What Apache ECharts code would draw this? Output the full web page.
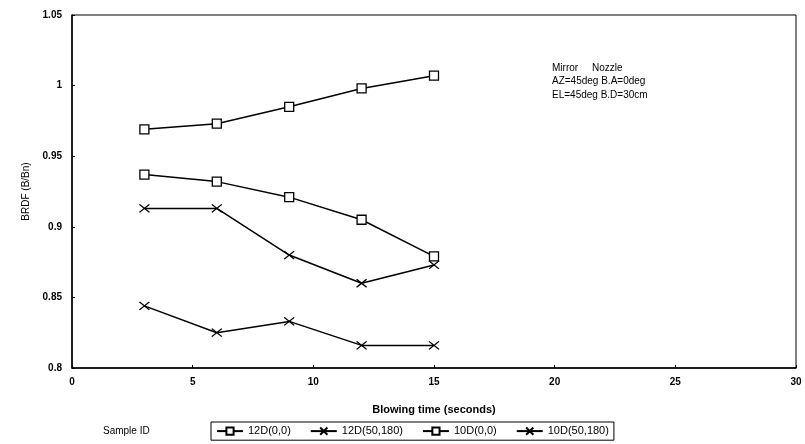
<!DOCTYPE html>
<html>
<head>
<meta charset="utf-8">
<script src="https://cdn.jsdelivr.net/npm/echarts@6/dist/echarts.min.js"></script>
<style>
  html, body { margin: 0; padding: 0; background: #fff; }
  #main { width: 805px; height: 444px; }
</style>
</head>
<body>
<div id="main"></div>
<script>
// blowing time (seconds)
var times = [3, 6, 9, 12, 15];
// BRDF (B/Bn) per sample
var d12_00 = [0.969, 0.973, 0.985, 0.998, 1.007];
var d12_50 = [0.913, 0.913, 0.880, 0.860, 0.873];
var d10_00 = [0.937, 0.932, 0.921, 0.905, 0.879];
var d10_50 = [0.844, 0.825, 0.833, 0.816, 0.816];
var names = ['12D(0,0)', '12D(50,180)', '10D(0,0)', '10D(50,180)'];
var notes = ['Mirror     Nozzle', 'AZ=45deg B.A=0deg', 'EL=45deg B.D=30cm'];

var FONT = 'Liberation Sans, Arial, sans-serif';
var cross = 'path://M0,0L10,8M10,0L0,8';

function pairs(ys) {
    return ys.map(function (y, i) { return [times[i], y]; });
}

function makeSeries(name, ys, isCross) {
    return {
        name: name,
        type: 'line',
        data: pairs(ys),
        symbol: isCross ? cross : 'rect',
        symbolSize: isCross ? [10, 8] : 9,
        showAllSymbol: true,
        lineStyle: { color: '#000', width: 1.5 },
        itemStyle: {
            color: isCross ? 'none' : '#fff',
            borderColor: '#000',
            borderWidth: 1.3
        },
        emphasis: { disabled: true },
        z: isCross ? 2 : 3
    };
}

var chart = echarts.init(document.getElementById('main'));

var option = {
    animation: false,
    backgroundColor: '#fff',
    textStyle: { fontFamily: FONT },
    grid: {
        left: 72, right: 9, top: 15, bottom: 76,
        show: true, borderColor: '#000', borderWidth: 1
    },
    legend: {
        data: names,
        left: 211, top: 422,
        padding: [3, 5],
        itemGap: 19,
        itemWidth: 26,
        itemHeight: 9,
        borderColor: '#000',
        borderWidth: 1,
        textStyle: { fontSize: 11, color: '#000', fontFamily: FONT }
    },
    xAxis: {
        type: 'value',
        min: 0, max: 30, interval: 5,
        name: 'Blowing time (seconds)',
        nameLocation: 'middle',
        nameGap: 36,
        nameTextStyle: { fontSize: 11, color: '#000', fontWeight: 'bold' },
        axisLine: { lineStyle: { color: '#000', width: 1.5 } },
        axisTick: { inside: true, length: 3, lineStyle: { color: '#000' } },
        axisLabel: { fontSize: 10, color: '#000', fontWeight: 'bold', margin: 9 },
        splitLine: { show: false }
    },
    yAxis: {
        type: 'value',
        min: 0.8, max: 1.05, interval: 0.05,
        name: 'BRDF (B/Bn)',
        nameLocation: 'middle',
        nameGap: 38,
        nameTextStyle: { fontSize: 10, color: '#000' },
        axisLine: { lineStyle: { color: '#000', width: 1.5 } },
        axisTick: { inside: true, length: 3, lineStyle: { color: '#000' } },
        axisLabel: { fontSize: 10, color: '#000', fontWeight: 'bold', margin: 10 },
        splitLine: { show: false }
    },
    graphic: [
        {
            type: 'text', left: 103, top: 426,
            style: { text: 'Sample ID', font: '10px ' + FONT, fill: '#000' }
        },
        {
            type: 'text', left: 552, top: 61,
            style: { text: notes.join('\n'), font: '10px ' + FONT, fill: '#000', lineHeight: 13.5, align: 'left' }
        }
    ],
    series: [
        makeSeries(names[0], d12_00, false),
        makeSeries(names[1], d12_50, true),
        makeSeries(names[2], d10_00, false),
        makeSeries(names[3], d10_50, true)
    ]
};

chart.setOption(option);
</script>
</body>
</html>
